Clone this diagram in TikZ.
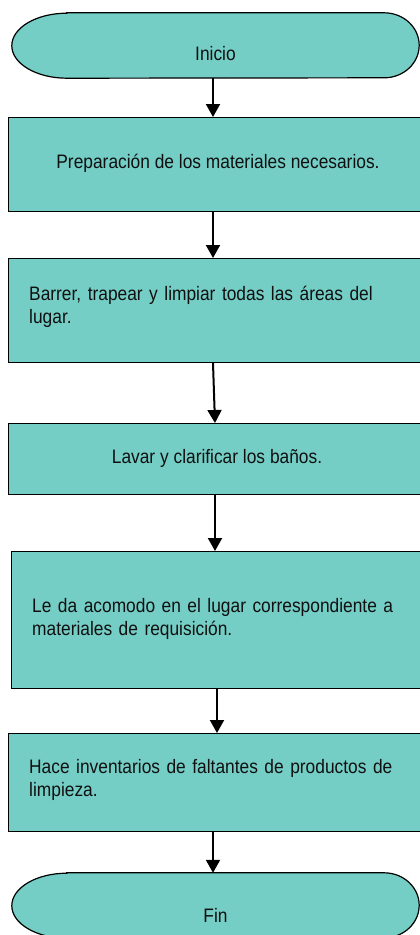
\documentclass[tikz,border=0pt]{standalone}
\usepackage{fontspec}
\setmainfont{Liberation Sans}[FakeStretch=0.89]
\usetikzlibrary{arrows.meta,backgrounds}
\definecolor{teal1}{HTML}{74CEC6}
\definecolor{ink}{HTML}{101010}
\tikzset{
  procbox/.style={draw=black, line width=1.2pt, fill=teal1, inner sep=0pt, minimum width=420pt, anchor=north west},
  termtxt/.style={inner sep=0pt, minimum width=407pt, minimum height=65pt, text depth=0pt, font=\fontsize{19.5}{23}\selectfont, text=ink},
  termshape/.style={draw=black, line width=1.2pt, fill=teal1},
  txt/.style={inner sep=0pt, font=\fontsize{19.5}{23}\selectfont, text=ink},
  ltxt/.style={txt, text width=385pt, align=left, anchor=base west},
  arr/.style={line width=2pt, -{Triangle[length=13pt,width=14pt]}}
}
\begin{document}
\begin{tikzpicture}[x=1pt,y=1pt]
\useasboundingbox (0,0) rectangle (420,-935);

% terminals (text nodes; shapes drawn behind)
\node[termtxt, text height=29pt] (start) at (215.5,-45.5) {Inicio};
\node[termtxt, text height=33pt] (fin) at (215.5,-905.5) {Fin};
\begin{scope}[on background layer]
\fill[white] (0,0) rectangle (420,-935);
\path[termshape] ([xshift=55pt]start.north west) -- ([xshift=-35pt]start.north east)
  arc[start angle=90, end angle=-90, x radius=35, y radius=32.5]
  -- ([xshift=55pt]start.south west)
  arc[start angle=270, end angle=90, x radius=55, y radius=32.5] -- cycle;
\path[termshape] ([xshift=55pt]fin.north west) -- ([xshift=-35pt]fin.north east)
  arc[start angle=90, end angle=-90, x radius=35, y radius=32.5]
  -- ([xshift=55pt]fin.south west)
  arc[start angle=270, end angle=90, x radius=55, y radius=32.5] -- cycle;
\end{scope}

% process boxes
\node[procbox, minimum height=94pt]  (b1) at (8,-117) {};
\node[procbox, minimum height=104pt] (b2) at (8,-258) {};
\node[procbox, minimum height=71pt]  (b3) at (8,-423) {};
\node[procbox, minimum height=137pt] (b4) at (11,-551) {};
\node[procbox, minimum height=98pt]  (b5) at (8,-733) {};

% texts
\node[txt, anchor=base] (t1) at (218,-168) {Preparación de los materiales necesarios.};
\node[ltxt] (t2) at (29,-300) {Barrer, trapear y limpiar todas las áreas del\\lugar.};
\node[txt, anchor=base] (t3) at (217,-463) {Lavar y clarificar los baños.};
\node[ltxt] (t4) at (32,-612) {Le da acomodo en el lugar correspondiente a\\materiales de requisición.};
\node[ltxt] (t5) at (29,-773) {Hace inventarios de faltantes de productos de\\limpieza.};

% connectors
\draw[arr] ([xshift=-2.5pt]start.south) -- ([xshift=205pt]b1.north west);
\draw[arr] ([xshift=205pt]b1.south west) -- ([xshift=205pt]b2.north west);
\draw[arr] ([xshift=205pt]b2.south west) -- ([xshift=207pt]b3.north west);
\draw[arr] ([xshift=207pt]b3.south west) -- ([xshift=204pt]b4.north west);
\draw[arr] ([xshift=206pt]b4.south west) -- ([xshift=209pt]b5.north west);
\draw[arr] ([xshift=205pt]b5.south west) -- ([xshift=-2.5pt]fin.north);
\end{tikzpicture}
\end{document}
